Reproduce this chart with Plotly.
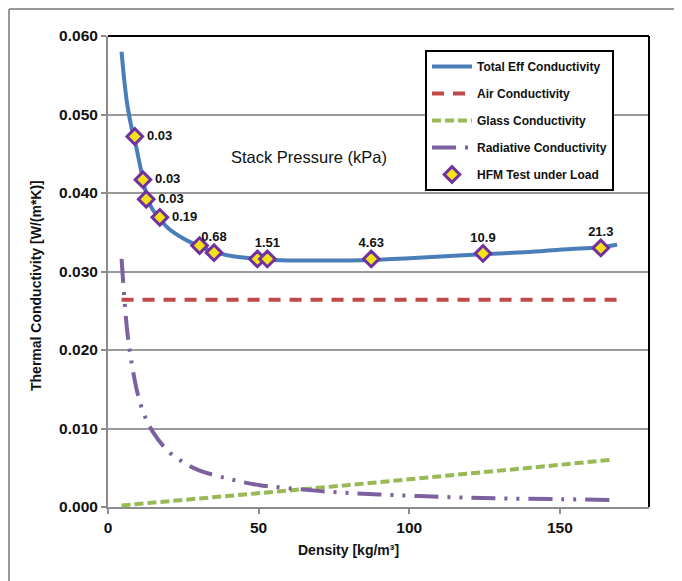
import plotly.graph_objects as go

# ---- data ----
total_x = [4.5, 5.5, 6.5, 8.0, 8.9, 10.0, 11.6, 12.7, 14.5, 17.2, 20.0, 25.0, 30.4, 35.2, 42.0, 50.0,
           60.0, 70.0, 80.0, 90.0, 100.0, 115.0, 124.5, 140.0, 155.0, 163.6, 169.0]
total_y = [0.0580, 0.0540, 0.0510, 0.0480, 0.0467, 0.0447, 0.0417, 0.0399, 0.0381, 0.0367, 0.0355, 0.0342,
           0.0332, 0.0325, 0.0319, 0.0316, 0.0314, 0.0314, 0.0314, 0.0315, 0.0317, 0.0320, 0.0322, 0.0325,
           0.0329, 0.0331, 0.0334]

air_x = [4.5, 169.0]
air_y = [0.0264, 0.0264]

glass_x = [4.5, 20, 40, 60, 80, 100, 120, 140, 166.6]
glass_y = [0.0002, 0.0007, 0.0014, 0.0021, 0.0028, 0.0035, 0.0043, 0.0050, 0.0060]

rad_x = [4.5, 5.5, 6.5, 8, 10, 12, 15, 20, 25, 30, 40, 50, 60, 75, 90, 110, 130, 150, 166.6]
rad_y = [0.0316, 0.0262, 0.0220, 0.0180, 0.0142, 0.0118, 0.0095, 0.0071, 0.0057, 0.0047, 0.0036,
         0.0028, 0.0024, 0.0019, 0.0016, 0.0013, 0.0011, 0.0010, 0.0009]

hfm_x = [8.9, 11.6, 12.7, 17.2, 30.4, 35.2, 49.6, 52.9, 87.4, 124.5, 163.6]
hfm_y = [0.0472, 0.0417, 0.0392, 0.0369, 0.0333, 0.0324, 0.0316, 0.0316, 0.0316, 0.0323, 0.0330]
hfm_labels = [" 0.03", " 0.03", " 0.03", " 0.19", "", "0.68", "", "1.51", "4.63", "10.9", "21.3"]
hfm_textpos = ["middle right", "middle right", "middle right", "middle right", "top center",
               "top center", "top center", "top center", "top center", "top center", "top center"]

x_ticks = [0, 50, 100, 150]

FONT = "Arial, Liberation Sans, sans-serif"

# figure sits in a page with 8px body margin
W, H = 674, 573
L, R, T, B = 100, 33, 28, 74
PW, PH = W - L - R, H - T - B

fig = go.Figure()
fig.add_trace(go.Scatter(x=total_x, y=total_y, mode="lines", name="Total Eff Conductivity",
                         line=dict(color="#4A7EBB", width=4, shape="spline"), legendgroup="a"))
fig.add_trace(go.Scatter(x=air_x, y=air_y, mode="lines", name="Air Conductivity",
                         line=dict(color="#BE4B48", width=4, dash="12px,9px"), legendgroup="b"))
fig.add_trace(go.Scatter(x=glass_x, y=glass_y, mode="lines", name="Glass Conductivity",
                         line=dict(color="#98B954", width=4, dash="9px,4px"), legendgroup="c"))
fig.add_trace(go.Scatter(x=rad_x, y=rad_y, mode="lines", name="Radiative Conductivity",
                         line=dict(color="#7D60A0", width=4, dash="24px,9px,3px,9px,3px,9px", shape="spline"),
                         legendgroup="d"))
fig.add_trace(go.Scatter(x=hfm_x, y=hfm_y, mode="markers+text", name="HFM Test under Load",
                         text=hfm_labels, textposition=hfm_textpos,
                         textfont=dict(family=FONT, size=13, color="#111", weight="bold"),
                         marker=dict(symbol="diamond", size=12, color="#F2E21C",
                                     line=dict(color="#7030A0", width=3)),
                         legendgroup="e"))

fig.add_annotation(x=66.6, y=0.0446, text="Stack Pressure (kPa)", showarrow=False,
                   font=dict(family=FONT, size=16.5, color="#111"))

# axis titles as annotations
fig.add_annotation(xref="paper", yref="paper", x=(340 - L) / PW, y=-(542 - (H - B)) / PH,
                   xanchor="center", yanchor="middle",
                   text="Density [kg/m³]", showarrow=False,
                   font=dict(family=FONT, size=14, color="#111", weight="bold"))
fig.add_annotation(xref="paper", yref="paper", x=(28 - L) / PW, y=((H - B) - 278) / PH,
                   xanchor="center", yanchor="middle",
                   text="Thermal Conductivity [W/(m*K)]", showarrow=False, textangle=-90,
                   font=dict(family=FONT, size=14, color="#111", weight="bold"))

# black top/right border of plot
fig.add_shape(type="line", xref="paper", yref="paper", x0=0, x1=1, y0=1, y1=1,
              line=dict(color="black", width=2))
fig.add_shape(type="line", xref="paper", yref="paper", x0=1, x1=1, y0=0, y1=1,
              line=dict(color="black", width=2))
# outer grey frame (left and top edges)
fig.add_shape(type="line", xref="paper", yref="paper", x0=(1 - L) / PW, x1=(1 - L) / PW,
              y0=(H - B - 1) / PH, y1=-(B + 20) / PH, line=dict(color="#9a9a9a", width=2))
fig.add_shape(type="line", xref="paper", yref="paper", x0=(1 - L) / PW, x1=(W + 20 - L) / PW,
              y0=(H - B - 1) / PH, y1=(H - B - 1) / PH, line=dict(color="#9a9a9a", width=2))

fig.update_layout(
    width=W, height=H,
    margin=dict(l=L, r=R, t=T, b=B, autoexpand=False),
    paper_bgcolor="white", plot_bgcolor="white",
    font=dict(family=FONT, size=13, color="#111"),
    showlegend=True,
    legend=dict(x=(417 - L) / PW, y=(H - B - 42) / PH, xanchor="left", yanchor="top",
                bgcolor="white", bordercolor="black", borderwidth=2,
                font=dict(family=FONT, size=12, color="#111", weight="bold"),
                tracegroupgap=8, itemwidth=40),
    xaxis=dict(range=[0, 179.6], tickvals=x_ticks, showgrid=False, zeroline=False,
               showline=True, linecolor="#8c8c8c", linewidth=2,
               ticks="outside", ticklen=5, tickcolor="#8c8c8c", tickwidth=2,
               tickfont=dict(family=FONT, size=15.5, color="#111", weight="bold")),
    yaxis=dict(range=[0, 0.060], dtick=0.010, tickformat=".3f", showgrid=True,
               gridcolor="#9a9a9a", gridwidth=1.5, zeroline=False,
               showline=True, linecolor="#8c8c8c", linewidth=2,
               ticks="outside", ticklen=5, tickcolor="#8c8c8c", tickwidth=2,
               tickfont=dict(family=FONT, size=15.5, color="#111", weight="bold")),
)

fig.write_html("out.html")
